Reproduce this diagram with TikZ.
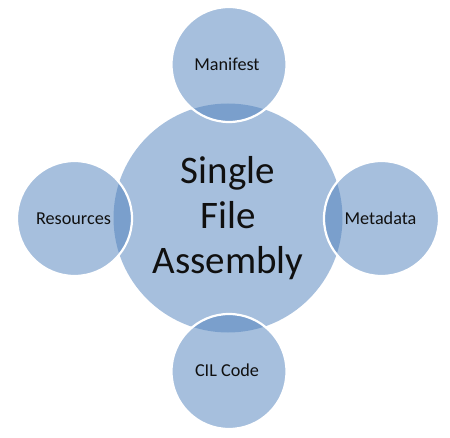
\documentclass[tikz,border=0pt]{standalone}
\usepackage{fontspec}
\setmainfont{Carlito}
\definecolor{vennblue}{HTML}{4F81BD}
\definecolor{labeltext}{HTML}{101010}
\begin{document}
\begin{tikzpicture}[x=1pt,y=1pt,
  bigc/.style={circle, fill=vennblue, fill opacity=0.5, text opacity=1,
    minimum size=229pt, inner sep=0pt, text=labeltext,
    font=\fontsize{39}{45}\selectfont, align=center},
  smallc/.style={circle, fill=vennblue, fill opacity=0.5, draw=white,
    draw opacity=1, line width=2.2pt, minimum size=115pt, inner sep=0pt},
  lbl/.style={anchor=base, text=labeltext, font=\fontsize{18.2}{21}\selectfont, inner sep=0pt}]
\useasboundingbox (0,0) rectangle (450,437);
\fill[white] (0,0) rectangle (450,437);
\node[bigc] (sfa) at (228,219) {Single\\File\\Assembly};
\node[smallc] (man) at (229,372.5) {};
\node[smallc] (res) at (74.5,218.5) {};
\node[smallc] (met) at (381.5,218.5) {};
\node[smallc] (cil) at (229,65.5) {};
\node[lbl] (tman) at ([yshift=-6pt,xshift=-2pt]man.center) {Manifest};
\node[lbl] (tres) at ([yshift=-6pt,xshift=-1pt]res.center) {Resources};
\node[lbl] (tmet) at ([yshift=-6pt,xshift=-1pt]met.center) {Metadata};
\node[lbl] (tcil) at ([yshift=-5pt,xshift=-2pt]cil.center) {CIL Code};
\end{tikzpicture}
\end{document}
